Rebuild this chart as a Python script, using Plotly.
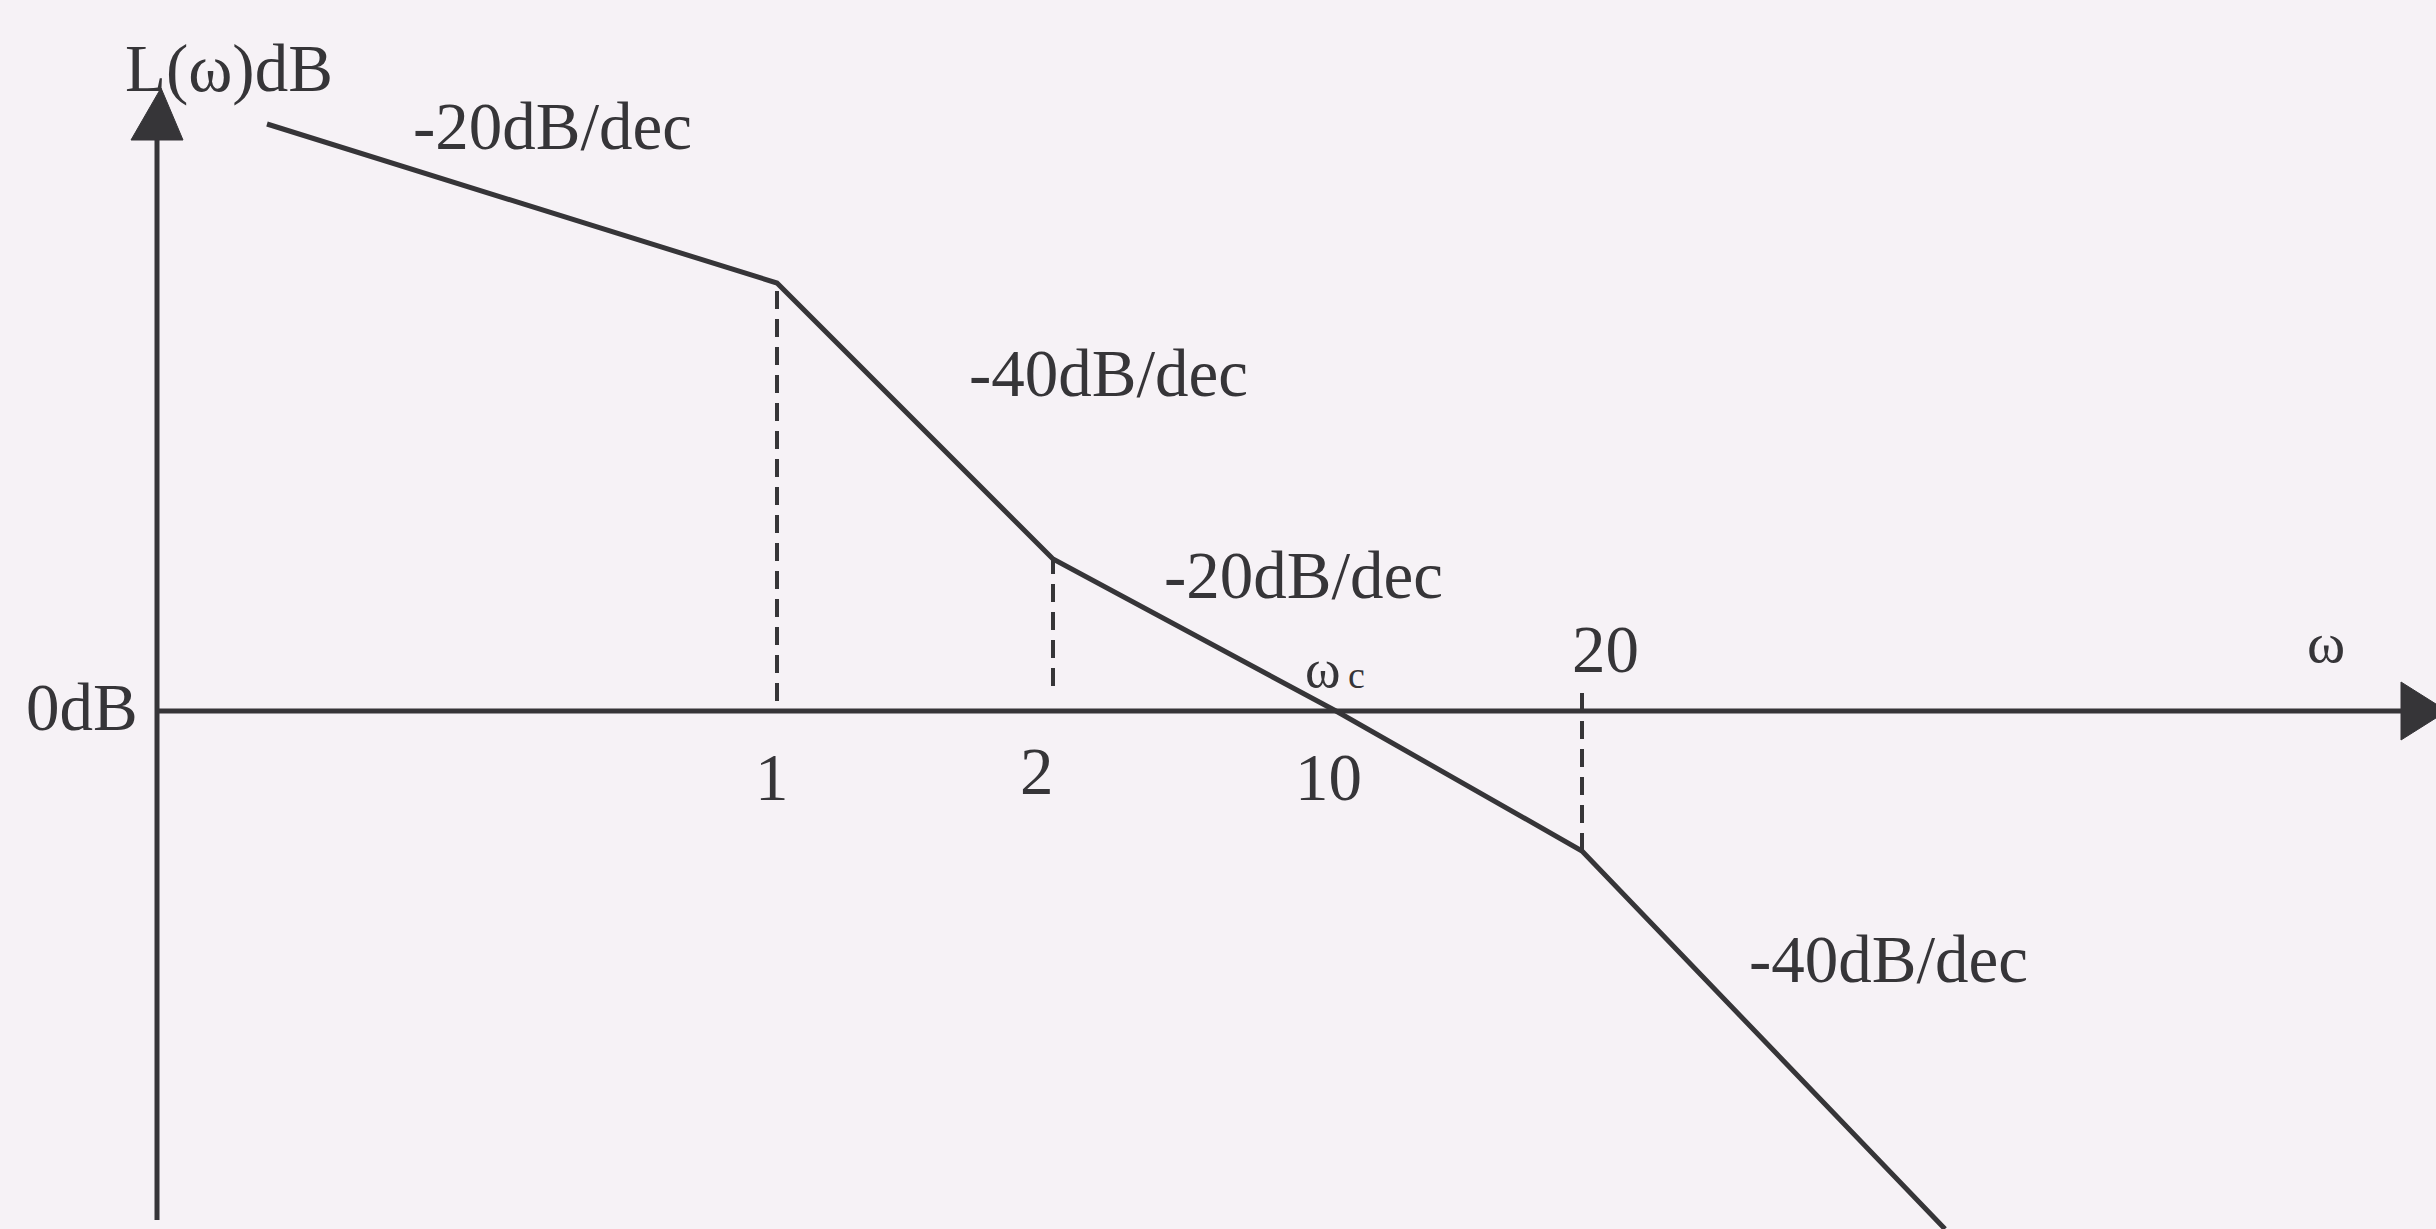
import plotly.graph_objects as go

# Asymptotic Bode magnitude plot (schematic, not to scale)
# Horizontal positions are schematic units along the ω axis; vertical values are
# schematic dB levels with 0 dB on the ω axis.
corner_labels = ["1", "2", "10", "20"]
corner_pos = [6.20, 8.96, 11.79, 14.25]
corner_level = [4.28, 1.52, 0.0, -1.40]

start_pos, start_level = 1.10, 5.87
end_pos, end_level = 17.88, -5.18

slope_labels = ["-20dB/dec", "-40dB/dec", "-20dB/dec", "-40dB/dec"]
slope_label_x = [3.95, 9.51, 11.46, 17.31]
slope_label_y = [5.85, 3.38, 1.36, -2.48]

# dashed guide lines between the ω axis and the corner points
guide_idx = [0, 1, 3]
guide_from = [0.10, 0.25, -1.40]     # lower end of each guide
guide_to = [4.28, 1.52, 0.22]        # upper end of each guide

INK = "#363538"
PAPER = "#f6f2f6"
FONT = "Liberation Serif"

x_range = [-1.57, 22.79]
y_range = [-5.18, 7.11]

fig = go.Figure()

# magnitude asymptote
fig.add_trace(go.Scatter(
    x=[start_pos] + corner_pos + [end_pos],
    y=[start_level] + corner_level + [end_level],
    mode="lines", line=dict(color=INK, width=5), hoverinfo="skip",
))

# dashed guides
for i, y0, y1 in zip(guide_idx, guide_from, guide_to):
    fig.add_trace(go.Scatter(
        x=[corner_pos[i], corner_pos[i]], y=[y0, y1],
        mode="lines", line=dict(color=INK, width=4, dash="18px,10px"),
        hoverinfo="skip",
    ))

# coordinate axes with arrowheads
axis_top, axis_bottom = 5.71, -5.09
x_axis_end = 22.44
fig.add_trace(go.Scatter(x=[0, 0], y=[axis_bottom, axis_top], mode="lines",
                         line=dict(color=INK, width=5), hoverinfo="skip"))
fig.add_trace(go.Scatter(x=[0, x_axis_end], y=[0, 0], mode="lines",
                         line=dict(color=INK, width=5), hoverinfo="skip"))

shapes = [
    dict(type="path", xref="x", yref="y",
         path=f"M -0.26 {axis_top} L 0.26 {axis_top} L 0.04 6.23 Z",
         fillcolor=INK, line=dict(color=INK, width=1)),
    dict(type="path", xref="x", yref="y",
         path=f"M {x_axis_end} -0.29 L {x_axis_end} 0.29 L 22.90 0 Z",
         fillcolor=INK, line=dict(color=INK, width=1)),
]

annotations = []


def label(text, x, y, size=67, xanchor="center", xshift=0):
    annotations.append(dict(
        text=text, x=x, y=y, xref="x", yref="y", showarrow=False,
        xanchor=xanchor, yanchor="middle", xshift=xshift,
        font=dict(family=FONT, size=size, color=INK),
    ))


label("L(ω)dB", 0.72, 6.43)
label("0dB", -0.17, 0.04, xanchor="right")
label("ω", 21.69, 0.69, size=58)
# crossover frequency symbol ω with subscript c
label("ω", 11.86, 0.42, size=54, xanchor="right")
label("c", 11.89, 0.36, size=38, xanchor="left")

tick_y = [-0.66, -0.60, -0.66, 0.62]
tick_shift = [-5, -16, -8, 23]
for t, x, y, dx in zip(corner_labels, corner_pos, tick_y, tick_shift):
    label(t, x, y, xshift=dx)

for t, x, y in zip(slope_labels, slope_label_x, slope_label_y):
    label(t, x, y)

fig.update_layout(
    width=2436, height=1229,
    margin=dict(l=0, r=0, t=0, b=0),
    paper_bgcolor=PAPER, plot_bgcolor=PAPER,
    showlegend=False,
    xaxis=dict(range=x_range, visible=False, fixedrange=True),
    yaxis=dict(range=y_range, visible=False, fixedrange=True),
    shapes=shapes, annotations=annotations,
)

fig.write_html("out.html", config={"displayModeBar": False})
